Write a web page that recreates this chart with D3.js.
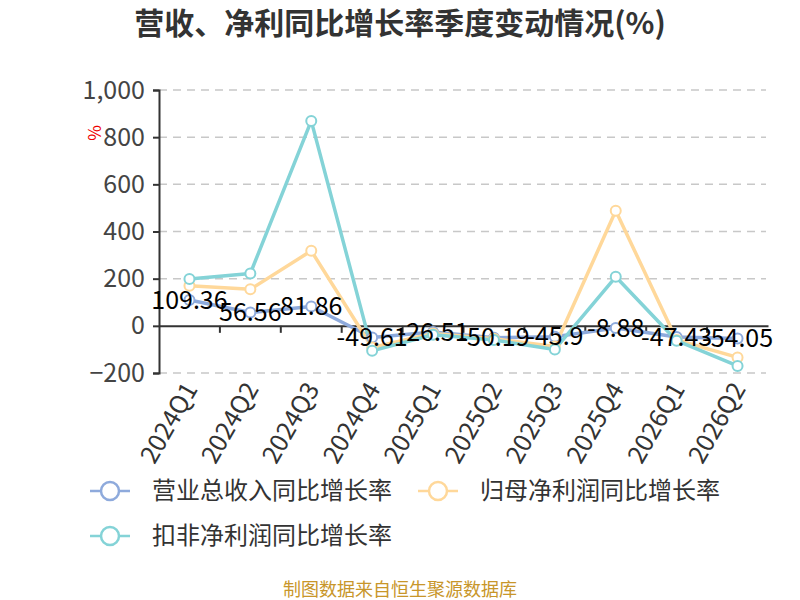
<!DOCTYPE html>
<html>
<head>
<meta charset="utf-8">
<script src="https://cdn.jsdelivr.net/npm/d3@7"></script>
<style>
  body { margin: 0; background: #fff; }
  svg { font-family: "Noto Sans CJK SC", "Noto Sans", sans-serif; }
</style>
</head>
<body>
<script>
// quarters on the x axis
const quarters = ["2024Q1", "2024Q2", "2024Q3", "2024Q4", "2025Q1", "2025Q2", "2025Q3", "2025Q4", "2026Q1", "2026Q2"];

// yoy growth, %
const revenueGrowth = [109.36, 56.56, 81.86, -49.61, -26.51, -50.19, -45.9, -8.88, -47.43, -54.05];
const netProfitGrowth = [170, 155, 318, -92, -32, -55, -88, 488, -60, -134];
const deductedGrowth = [199, 222, 869, -106, -38, -60, -100, 208, -63, -170];

const yTicks = [-200, 0, 200, 400, 600, 800, 1000];

const seriesNames = ["营业总收入同比增长率", "归母净利润同比增长率", "扣非净利润同比增长率"];
const seriesColors = ["#8eaadc", "#ffd89a", "#84d3d7"];

const width = 800, height = 600;
const svg = d3.select("body").append("svg")
    .attr("width", width)
    .attr("height", height);

// title
svg.append("text")
    .attr("x", 400)
    .attr("y", 34)
    .attr("text-anchor", "middle")
    .attr("font-size", 30)
    .attr("font-weight", "bold")
    .attr("fill", "#333")
    .text("营收、净利同比增长率季度变动情况(%)");

const x = d3.scaleBand()
    .domain(quarters)
    .range([159, 768]);

const y = d3.scaleLinear()
    .domain([-200, 1000])
    .range([373, 90]);

// grid
svg.append("g")
    .selectAll("line")
    .data(yTicks.filter(d => d !== 0))
    .enter()
    .append("line")
    .attr("x1", 159)
    .attr("x2", 766)
    .attr("y1", d => y(d))
    .attr("y2", d => y(d))
    .attr("stroke", "#c8c8c8")
    .attr("stroke-width", 1.5)
    .attr("stroke-dasharray", "8,6");

// y axis
const yAxis = svg.append("g")
    .attr("transform", "translate(159,0)")
    .call(d3.axisLeft(y).tickValues(yTicks).tickSize(6).tickPadding(8).tickFormat(d3.format(",")));
yAxis.select(".domain").attr("stroke", "#333").attr("stroke-width", 2);
yAxis.selectAll(".tick line").attr("stroke", "#333").attr("stroke-width", 2);
yAxis.selectAll(".tick text")
    .attr("font-size", 25)
    .attr("fill", "#444")
    .attr("font-family", "\"Noto Sans CJK SC\", sans-serif");

// unit label
svg.append("text")
    .attr("transform", "translate(101,133) rotate(-90)")
    .attr("text-anchor", "middle")
    .attr("font-size", 17)
    .attr("fill", "#e00")
    .text("%");

// x axis along zero
const xAxis = svg.append("g")
    .attr("transform", `translate(0,${y(0)})`)
    .call(d3.axisBottom(x).tickSize(0).tickFormat(""));
xAxis.select(".domain").attr("stroke", "#333").attr("stroke-width", 2);

// ticks between bands
svg.append("g")
    .selectAll("line")
    .data(quarters.slice(1))
    .enter()
    .append("line")
    .attr("x1", d => x(d))
    .attr("x2", d => x(d))
    .attr("y1", y(0))
    .attr("y2", y(0) + 7)
    .attr("stroke", "#333")
    .attr("stroke-width", 2);

// rotated category labels
svg.append("g")
    .selectAll("text")
    .data(quarters)
    .enter()
    .append("text")
    .attr("transform", d => `translate(${x(d) + x.bandwidth() / 2 + 9},${389}) rotate(-60)`)
    .attr("text-anchor", "end")
    .attr("font-size", 25)
    .attr("fill", "#333")
    .text(d => d);

// lines
const allSeries = [revenueGrowth, netProfitGrowth, deductedGrowth];
const cx = i => x(quarters[i]) + x.bandwidth() / 2;
const line = d3.line()
    .x((d, i) => cx(i))
    .y(d => y(d));

allSeries.forEach((s, k) => {
    svg.append("path")
        .datum(s)
        .attr("d", line)
        .attr("fill", "none")
        .attr("stroke", seriesColors[k])
        .attr("stroke-width", 3.5)
        .attr("stroke-linejoin", "round");
});

allSeries.forEach((s, k) => {
    svg.append("g")
        .selectAll("circle")
        .data(s)
        .enter()
        .append("circle")
        .attr("cx", (d, i) => cx(i))
        .attr("cy", d => y(d))
        .attr("r", 5)
        .attr("fill", "#fff")
        .attr("stroke", seriesColors[k])
        .attr("stroke-width", 2);
});

// value labels on revenue series
svg.append("g")
    .selectAll("text")
    .data(revenueGrowth)
    .enter()
    .append("text")
    .attr("x", (d, i) => cx(i))
    .attr("y", d => y(d))
    .attr("dy", "0.35em")
    .attr("text-anchor", "middle")
    .attr("font-size", 25)
    .attr("fill", "#000")
    .text(d => d);

// legend
const legendPos = [[90, 491], [418, 491], [90, 536]];
seriesNames.forEach((name, k) => {
    const g = svg.append("g").attr("transform", `translate(${legendPos[k][0]},${legendPos[k][1]})`);
    g.append("line")
        .attr("x1", 0).attr("x2", 40)
        .attr("stroke", seriesColors[k])
        .attr("stroke-width", 2.5);
    g.append("circle")
        .attr("cx", 20).attr("r", 9)
        .attr("fill", "#fff")
        .attr("stroke", seriesColors[k])
        .attr("stroke-width", 2.5);
    g.append("text")
        .attr("x", 62)
        .attr("dy", "0.35em")
        .attr("font-size", 24)
        .attr("fill", "#333")
        .text(name);
});

// source note
svg.append("text")
    .attr("x", 400)
    .attr("y", 596)
    .attr("text-anchor", "middle")
    .attr("font-size", 18)
    .attr("fill", "#c8962a")
    .text("制图数据来自恒生聚源数据库");
</script>
</body>
</html>
